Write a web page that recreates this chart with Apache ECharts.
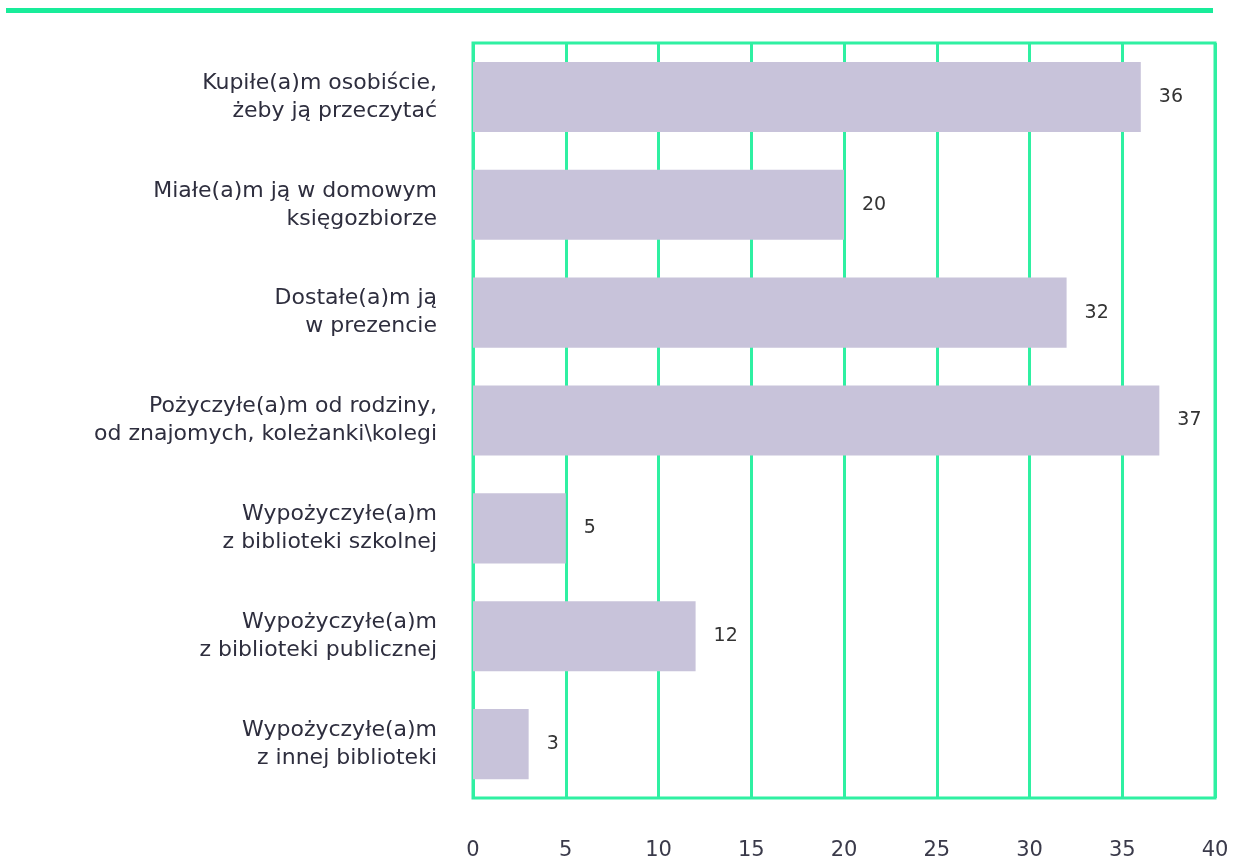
<!DOCTYPE html>
<html>
<head>
<meta charset="utf-8">
<script src="https://cdn.jsdelivr.net/npm/echarts@6/dist/echarts.min.js"></script>
<style>
  html, body { margin: 0; padding: 0; background: #fff; }
  #chart { width: 1235px; height: 862px; }
</style>
</head>
<body>
<div id="chart"></div>
<script>
const categories = [
    'Kupiłe(a)m osobiście,\nżeby ją przeczytać',
    'Miałe(a)m ją w domowym\nksięgozbiorze',
    'Dostałe(a)m ją\nw prezencie',
    'Pożyczyłe(a)m od rodziny,\nod znajomych, koleżanki\\kolegi',
    'Wypożyczyłe(a)m\nz biblioteki szkolnej',
    'Wypożyczyłe(a)m\nz biblioteki publicznej',
    'Wypożyczyłe(a)m\nz innej biblioteki'
];
const values = [36, 20, 32, 37, 5, 12, 3];

const green = '#2ff0a2';
const chart = echarts.init(document.getElementById('chart'));

const option = {
    animation: false,
    textStyle: { fontFamily: 'DejaVu Sans' },
    // zielona linia u góry
    graphic: [{
        type: 'rect',
        shape: { x: 6, y: 8, width: 1207, height: 5 },
        style: { fill: '#18ec9a' }
    }],
    grid: {
        left: 473,
        right: 20,
        top: 43,
        bottom: 64,
        show: true,
        borderColor: green,
        borderWidth: 3
    },
    xAxis: {
        type: 'value',
        min: 0,
        max: 40,
        interval: 5,
        axisLine: { show: false },
        axisTick: { show: false },
        splitLine: { lineStyle: { color: green, width: 3 } },
        axisLabel: { color: '#3a3a4a', fontSize: 21, margin: 42 }
    },
    yAxis: {
        type: 'category',
        inverse: true,
        data: categories,
        axisLine: { show: false },
        axisTick: { show: false },
        splitLine: { show: false },
        axisLabel: {
            color: '#2e2e3e',
            fontSize: 22,
            lineHeight: 28,
            margin: 36,
            align: 'right'
        }
    },
    series: [{
        type: 'bar',
        data: values,
        barCategoryGap: '35%',
        itemStyle: { color: '#c8c3da' },
        label: {
            show: true,
            position: 'right',
            distance: 18,
            color: '#333',
            fontSize: 19
        }
    }]
};
chart.setOption(option);
</script>
</body>
</html>
